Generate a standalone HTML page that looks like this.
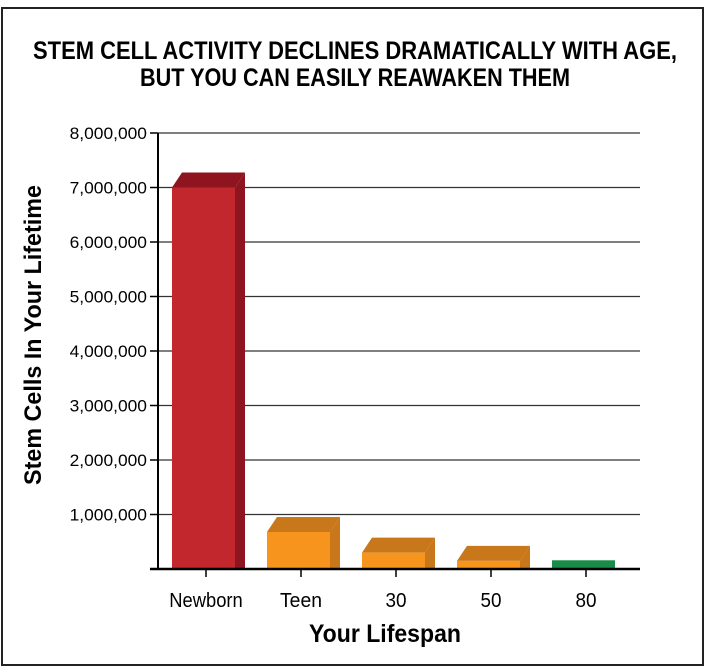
<!DOCTYPE html>
<html><head><meta charset="utf-8"><style>
body{margin:0;background:#fff;}
svg{display:block;font-family:"Liberation Sans",sans-serif;}
</style></head><body>
<svg id="chart" width="708" height="670">
<rect x="2" y="8" width="701" height="657" fill="#fff" stroke="#222" stroke-width="2"/>
<text x="355" y="59" text-anchor="middle" font-size="25" font-weight="bold" textLength="644" lengthAdjust="spacingAndGlyphs">STEM CELL ACTIVITY DECLINES DRAMATICALLY WITH AGE,</text>
<text x="355" y="86" text-anchor="middle" font-size="25" font-weight="bold" textLength="430" lengthAdjust="spacingAndGlyphs">BUT YOU CAN EASILY REAWAKEN THEM</text>
<g id="grid"></g><g id="bars"></g><g id="axes"></g>
<text transform="translate(41,335) rotate(-90)" text-anchor="middle" font-size="24" font-weight="bold" textLength="300" lengthAdjust="spacingAndGlyphs">Stem Cells In Your Lifetime</text>
<text x="385" y="642" text-anchor="middle" font-size="25" font-weight="bold" textLength="152" lengthAdjust="spacingAndGlyphs">Your Lifespan</text>
</svg>
<script>
const categories = ["Newborn","Teen","30","50","80"];
const values = [7000000,680000,300000,150000,160000];
const yTicks = [0,1000000,2000000,3000000,4000000,5000000,6000000,7000000,8000000];
const yTickLabels = ["","1,000,000","2,000,000","3,000,000","4,000,000","5,000,000","6,000,000","7,000,000","8,000,000"];
const fronts = ["#c1272d","#f7941d","#f7941d","#f7941d","#1a8c4a"];
const tops = ["#8e1420","#c8771a","#c8771a","#c8771a","#1a8c4a"];
const NS="http://www.w3.org/2000/svg";
const x0=158,x1=640,y0=569,yTop=133,maxV=8000000;
const y=v=>y0-(v/maxV)*(y0-yTop);
const xc=i=>206+i*95;
function mk(t,a,p){const e=document.createElementNS(NS,t);for(const k in a)e.setAttribute(k,a[k]);p.appendChild(e);return e;}
const grid=document.getElementById('grid'),bars=document.getElementById('bars'),axes=document.getElementById('axes');
yTicks.forEach((v,i)=>{
  if(v>0){const l=mk('line',{x1:x0,x2:x1,y1:y(v),y2:y(v),stroke:'#333','stroke-width':1.2},grid);
  
  }
  const t=mk('line',{x1:150,x2:x0,y1:y(v),y2:y(v),stroke:'#000','stroke-width':1.5},axes);
  
  
  if(yTickLabels[i]){const tx=mk('text',{x:147,y:y(v)+6,'text-anchor':'end','font-size':17,textLength:yTickLabels[i].length*8.6,lengthAdjust:'spacingAndGlyphs'},axes);tx.textContent=yTickLabels[i];
  
  }
});
const dx=10,dy=15,w=63;
categories.forEach((c,i)=>{
  const L=xc(i)-34,T=y(values[i]);
  const g=mk('g',{},bars);
  
  
  if(i<4){
    mk('polygon',{points:`${L},${T} ${L+dx},${T-dy} ${L+w+dx},${T-dy} ${L+w},${T}`,fill:tops[i]},g);
    mk('polygon',{points:`${L+w},${T} ${L+w+dx},${T-dy} ${L+w+dx},${y0} ${L+w},${y0}`,fill:tops[i]},g);
  }
  mk('rect',{x:L,y:T,width:w,height:y0-T,fill:fronts[i]},g);
  const t=mk('line',{x1:xc(i),x2:xc(i),y1:y0,y2:y0+8,stroke:'#000','stroke-width':1.5},axes);
  
  
  const tx=mk('text',{x:xc(i),y:607,'text-anchor':'middle','font-size':20,textLength:c.length*10.5,lengthAdjust:'spacingAndGlyphs'},axes);tx.textContent=c;
  
  
});
const ya=mk('line',{x1:x0,x2:x0,y1:yTop,y2:y0,stroke:'#000','stroke-width':2},axes);


const xa=mk('line',{x1:150,x2:x1,y1:y0,y2:y0,stroke:'#000','stroke-width':2.5},axes);


</script>
</body></html>
